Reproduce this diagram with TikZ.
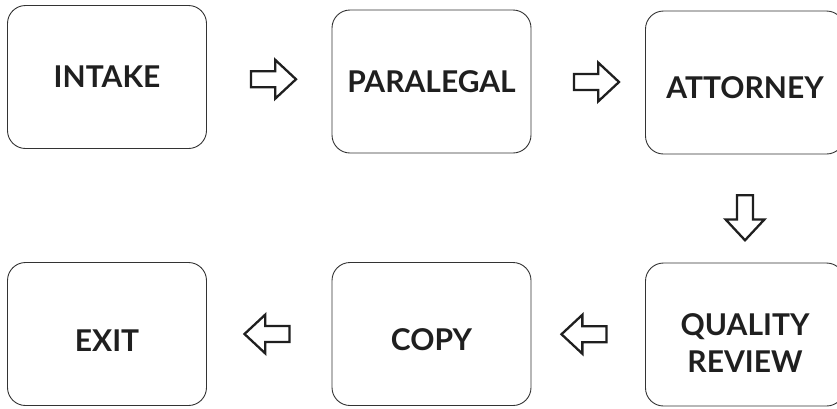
\documentclass[tikz,border=0pt]{standalone}
\usepackage{fontspec}
\setmainfont{Lato}
\usetikzlibrary{shapes.arrows,positioning,calc}

\tikzset{
  stage/.style={draw=black!80,line width=0.9pt,rounded corners=18pt,
    minimum width=199pt,minimum height=143pt,text=black!88,
    font=\fontsize{30}{37}\selectfont\bfseries,align=center},
  flow/.style={single arrow,draw=black!88,fill=white,line width=2.3pt,
    inner xsep=0pt,inner ysep=6.8pt,minimum height=45pt,
    single arrow head extend=11.5pt,single arrow tip angle=86},
}

\begin{document}
\begin{tikzpicture}[x=1pt,y=-1pt]
\useasboundingbox (0,0) rectangle (837,408);

% top row
\node[stage] (intake) at (107,77) {INTAKE};
\node[stage] (paralegal) at (431.5,81.5) {PARALEGAL};
\node[stage,text height=33pt] (attorney) at (745,82.5) {ATTORNEY};

% bottom row
\node[stage,text height=75pt] (review) at (745,334.5) {QUALITY\\REVIEW};
\node[stage,text height=34pt] (copy) at (431.5,334) {COPY};
\node[stage,text height=34pt] (exit) at (107,334) {EXIT};

% block arrows
\node[flow] (a1) at ($(intake.east)!0.5!(paralegal.west)$) {};
\node[flow] (a2) at ($(paralegal.east)!0.5!(attorney.west)+(4,0)$) {};
\node[flow,rotate=-90] (a3) at ($(attorney.south)!0.5!(review.north)+(0,5)$) {};
\node[flow,rotate=180] (a4) at ($(review.west)!0.5!(copy.east)$) {};
\node[flow,rotate=180] (a5) at ($(copy.west)!0.5!(exit.east)+(2,0)$) {};
\end{tikzpicture}
\end{document}
